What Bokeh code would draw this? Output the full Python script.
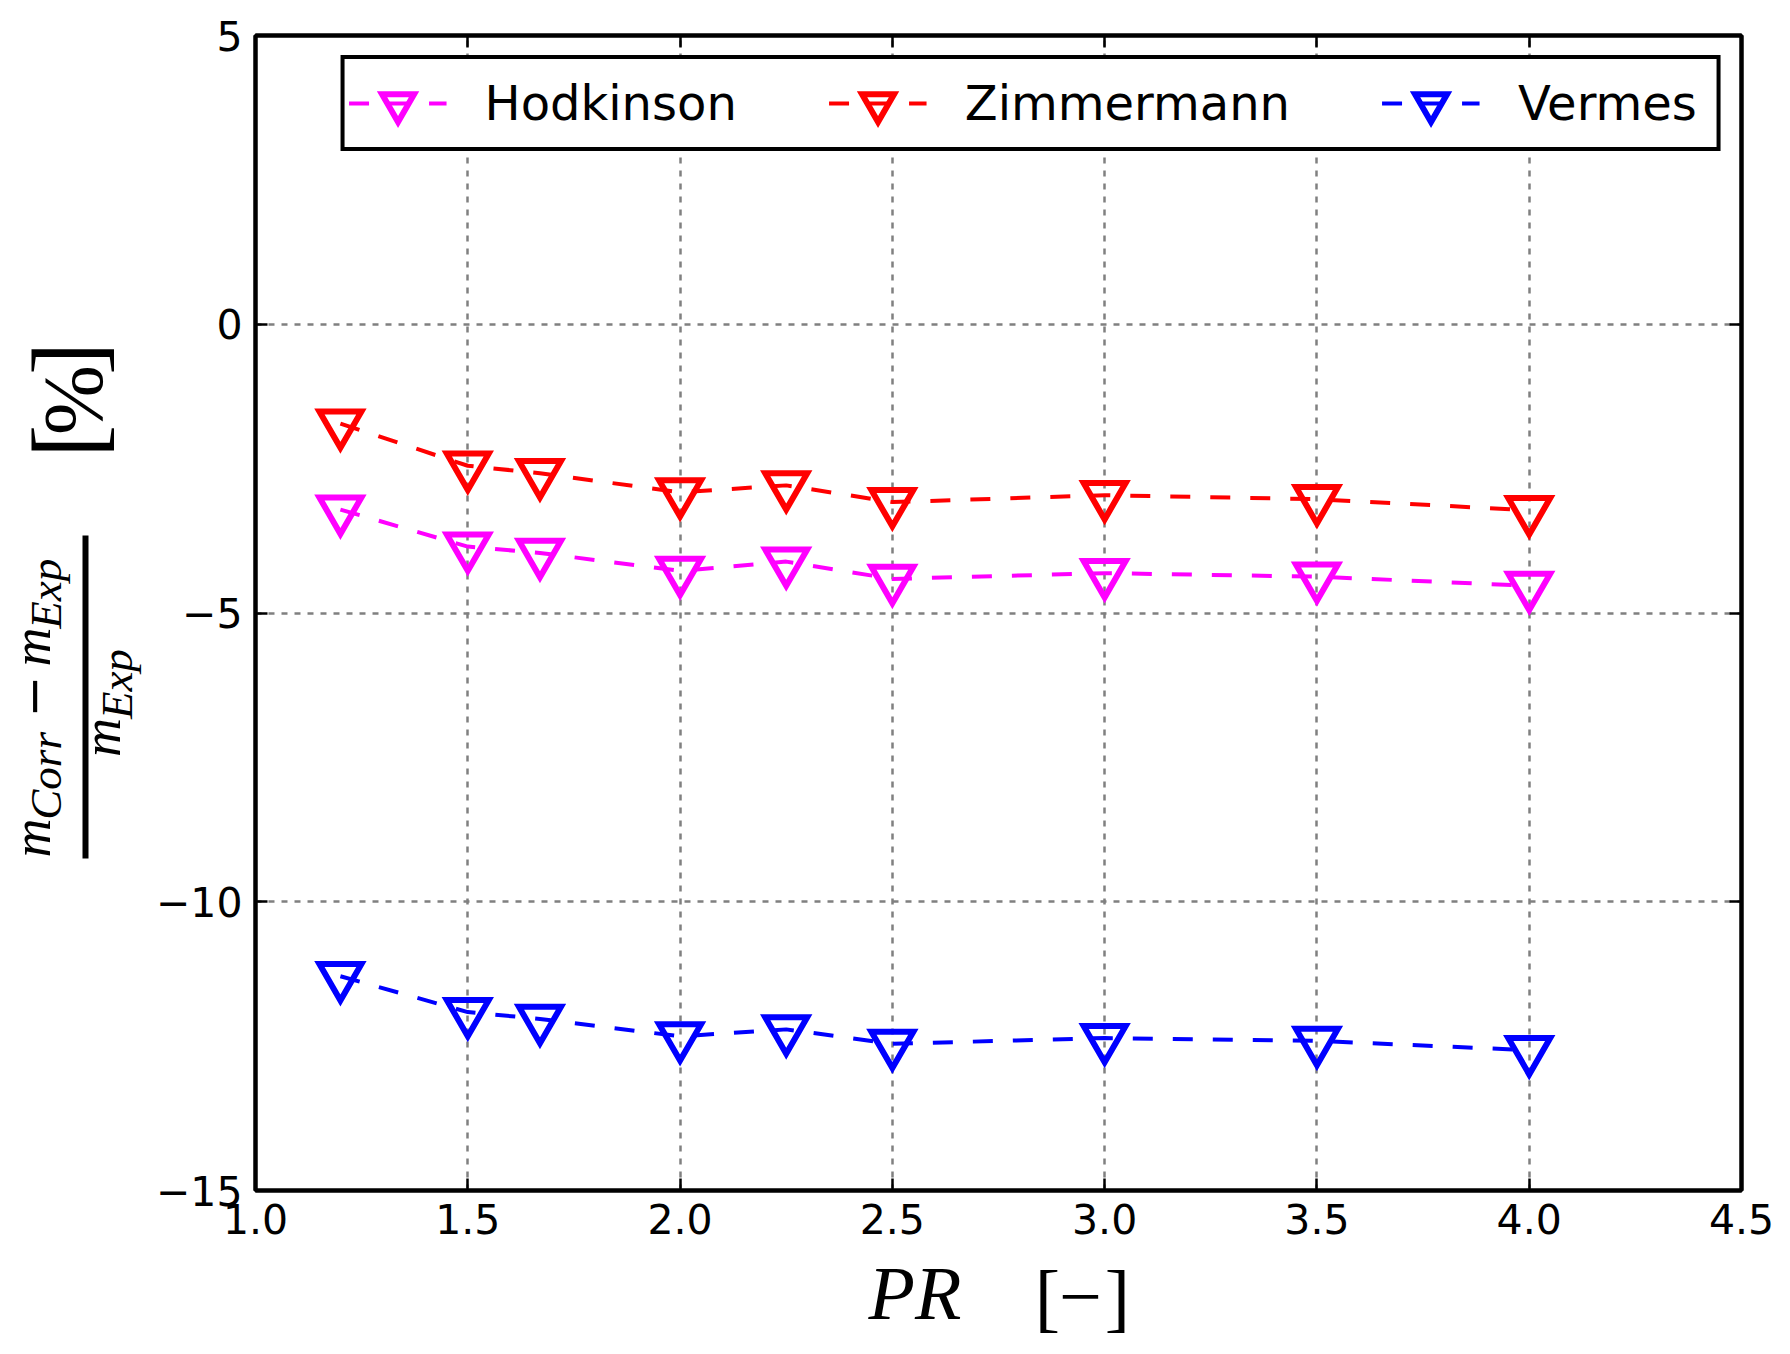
import math

from bokeh.plotting import figure
from bokeh.layouts import row, column
from bokeh.models import (Range1d, FixedTicker, LinearAxis, Legend, LegendItem,
                          Label, BoxAnnotation)
from bokeh.embed import file_html
from bokeh.resources import INLINE

# pressure ratio values
pr = [1.2, 1.5, 1.67, 2.0, 2.25, 2.5, 3.0, 3.5, 4.0]

# relative deviation of each correlation from experiment [%]
hodkinson = [-3.21, -3.85, -3.96, -4.27, -4.11, -4.41, -4.31, -4.37, -4.53]
zimmermann = [-1.72, -2.45, -2.58, -2.91, -2.79, -3.08, -2.96, -3.03, -3.22]
vermes = [-11.29, -11.91, -12.03, -12.33, -12.21, -12.46, -12.36, -12.41, -12.57]

series_names = ["Hodkinson", "Zimmermann", "Vermes"]
series_colors = ["#ff00ff", "#ff0000", "#0000ff"]

x_ticks = [1.0, 1.5, 2.0, 2.5, 3.0, 3.5, 4.0, 4.5]
x_tick_labels = ["1.0", "1.5", "2.0", "2.5", "3.0", "3.5", "4.0", "4.5"]
y_ticks = [-15, -10, -5, 0, 5]
y_tick_labels = ["\u221215", "\u221210", "\u22125", "0", "5"]

# overall size and pieces of the layout (page pixels)
TOTAL_W, TOTAL_H = 1774, 1346
LEFT_W = 150            # strip holding the y axis label
MAIN_H = 1252           # main plot height, x axis label strip below it
FL, FT, FR, FB = 255, 35, 1741, 1190   # plot frame on the page

MAIN_W = TOTAL_W - LEFT_W
SERIF = "'Liberation Serif', 'DejaVu Serif', serif"
SANS = "'DejaVu Sans', sans-serif"

p = figure(width=MAIN_W, height=MAIN_H, output_backend="svg", toolbar_location=None,
           x_range=Range1d(1.0, 4.5), y_range=Range1d(-15, 5),
           min_border_left=FL - LEFT_W, min_border_top=FT,
           min_border_right=TOTAL_W - FR, min_border_bottom=MAIN_H - FB)
p.background_fill_color = "white"
p.border_fill_color = "white"
p.outline_line_color = "black"
p.outline_line_width = 4

xt = FixedTicker(ticks=x_ticks, minor_ticks=[])
yt = FixedTicker(ticks=y_ticks, minor_ticks=[])


def style_axis(ax, labels=True):
    ax.axis_line_color = "black"
    ax.axis_line_width = 4
    ax.major_tick_in = 12
    ax.major_tick_out = 0
    ax.major_tick_line_width = 2.5
    ax.major_tick_line_color = "black"
    ax.minor_tick_line_color = None
    ax.axis_label = None
    if labels:
        ax.major_label_text_font = "DejaVu Sans"
        ax.major_label_text_font_size = "41px"
        ax.major_label_text_color = "black"
    else:
        # ticks only on the top and right sides
        ax.major_label_text_font_size = "1px"
        ax.major_label_text_color = None
        ax.major_label_standoff = 0


p.xaxis.ticker = xt
p.yaxis.ticker = yt
style_axis(p.xaxis[0])
style_axis(p.yaxis[0])
p.xaxis.major_label_overrides = dict(zip(x_ticks, x_tick_labels))
p.yaxis.major_label_overrides = dict(zip(y_ticks, y_tick_labels))
p.xaxis.major_label_standoff = 13
p.yaxis.major_label_standoff = 13

top_ax = LinearAxis(ticker=xt)
right_ax = LinearAxis(ticker=yt)
style_axis(top_ax, labels=False)
style_axis(right_ax, labels=False)
p.add_layout(top_ax, "above")
p.add_layout(right_ax, "right")

p.xgrid.ticker = xt
p.ygrid.ticker = yt
for g in (p.xgrid[0], p.ygrid[0]):
    g.grid_line_color = "#808080"
    g.grid_line_width = 2.5
    g.grid_line_dash = "6 7"

items = []
for name, ys, col in zip(series_names, [hodkinson, zimmermann, vermes], series_colors):
    ln = p.line(pr, ys, line_color=col, line_width=4, line_dash="20 20")
    sc = p.scatter(pr, ys, marker="inverted_triangle", size=42, fill_color=None,
                   line_color=col, line_width=6, line_join="miter")
    items.append(LegendItem(label=name, renderers=[ln, sc]))

legend = Legend(items=items, location="top_right", orientation="horizontal",
                margin=20, padding=4, spacing=92, glyph_width=98, glyph_height=80,
                label_height=80, label_width=195, label_standoff=38,
                label_text_font="DejaVu Sans", label_text_font_size="48px",
                label_text_color="black", label_text_baseline="middle",
                border_line_color="black", border_line_width=4, border_line_alpha=1.0,
                background_fill_color="white", background_fill_alpha=1.0)
p.add_layout(legend)


def text_strip(w, h, x0, y0):
    # blank figure whose data coordinates are page pixels (y grows downwards)
    f = figure(width=w, height=h, output_backend="svg", toolbar_location=None,
               x_range=Range1d(x0, x0 + w), y_range=Range1d(y0 + h, y0),
               x_axis_type=None, y_axis_type=None, min_border=0)
    f.outline_line_color = None
    f.background_fill_color = "white"
    f.border_fill_color = "white"
    f.grid.visible = False
    return f


MID = 0.3375   # distance of the text box centre above the baseline, in em


def lab(f, px, base, text, size, italic=False, align="left", rotated=False, font=SERIF):
    # px/base: position along the text and its baseline; the label is anchored
    # on the middle of its text box, so shift by MID*size towards the ascent
    if rotated:
        x, y, angle = base - MID * size, px, math.pi / 2
    else:
        x, y, angle = px, base - MID * size, 0.0
    f.add_layout(Label(x=x, y=y, text=text, angle=angle,
                       text_font=font,
                       text_font_style="italic" if italic else "normal",
                       text_font_size=f"{size}px", text_color="black",
                       text_align=align, text_baseline="middle"))


# x axis label: PR [-]
bottom = text_strip(TOTAL_W, TOTAL_H - MAIN_H, 0, MAIN_H)
lab(bottom, 868, 1318, "PR", 76, italic=True)
lab(bottom, 1047, 1322, "[", 76, align="center")
lab(bottom, 1080, 1322, "\u2212", 76, align="center")
lab(bottom, 1117, 1322, "]", 76, align="center")

# y axis label: (m_Corr - m_Exp) / m_Exp  [%], reading upwards
left = text_strip(LEFT_W, MAIN_H, 0, 0)
lab(left, 891, 50, "m", 54, italic=True, rotated=True)
lab(left, 850, 61, "Corr", 45, italic=True, rotated=True)
lab(left, 739, 49, "\u2212", 50, rotated=True, font=SANS)
lab(left, 684, 50, "m", 54, italic=True, rotated=True)
lab(left, 643, 61, "Exp", 45, italic=True, rotated=True)
left.add_layout(BoxAnnotation(left=82, right=88, bottom=892, top=542,
                              fill_color="black", fill_alpha=1.0, line_color=None))
lab(left, 782, 120, "m", 54, italic=True, rotated=True)
lab(left, 741, 132, "Exp", 45, italic=True, rotated=True)
lab(left, 440, 101, "[", 100, align="center", rotated=True)
lab(left, 395, 101, "%", 84, align="center", rotated=True)
lab(left, 350, 101, "]", 100, align="center", rotated=True)

layout = column(row(left, p), bottom)

open("out.html", "w").write(file_html(layout, INLINE))
